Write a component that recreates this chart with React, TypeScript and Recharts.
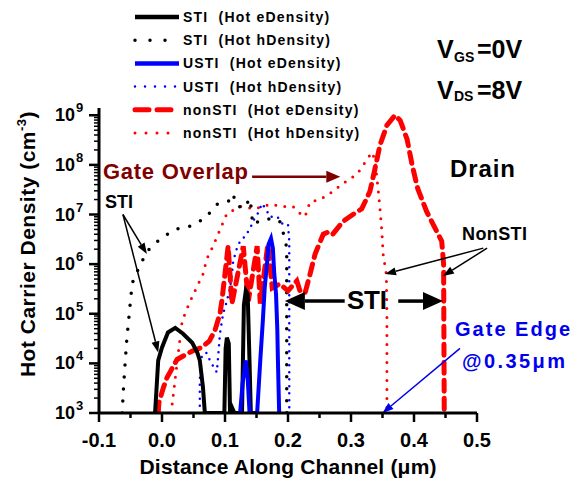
import React from 'react';
import { ComposedChart, Line, XAxis, YAxis, ReferenceLine } from 'recharts';

const FONT = "Arial, 'Liberation Sans', Helvetica, sans-serif";

// [distance along channel (um), hot carrier density (cm^-3)]
const stiEDensity: [number, number][] = [
  [-0.011, 1e3], [-0.006, 1.15e4], [0.0, 2.1e4], [0.0095, 4.2e4], [0.021, 5.2e4], [0.033, 4.0e4],
  [0.048, 2.6e4], [0.056, 1.66e4], [0.06, 1.15e4], [0.065, 3.3e3], [0.068, 1e3], [0.099, 1e3],
  [0.101, 2e4], [0.103, 3.3e4], [0.106, 2.5e4], [0.108, 1e3], [0.111, 1.3e3], [0.115, 1e3],
  [0.127, 1e3], [0.13, 1.5e5], [0.133, 2.9e5], [0.136, 2.5e5], [0.139, 1e4], [0.141, 1e3],
];
const stiHDensity: [number, number][] = [
  [-0.063, 1e3], [-0.062, 2.1e3], [-0.059, 8.3e3], [-0.056, 2.9e4], [-0.052, 1e5], [-0.049, 2.5e5],
  [-0.046, 4.6e5], [-0.037, 8.3e5], [-0.024, 1.8e6], [-0.003, 3.2e6], [0.021, 5e6], [0.044, 5.8e6],
  [0.068, 8.3e6], [0.087, 1.6e7], [0.105, 1.8e7], [0.113, 2.6e7], [0.117, 1.6e7], [0.129, 1.3e7],
  [0.14, 2.1e7], [0.144, 6.3e6], [0.16, 8e6], [0.179, 8.3e6], [0.187, 7.2e6], [0.195, 3.3e6],
  [0.198, 2.1e6], [0.198, 1.8e5], [0.198, 1e3],
];
const ustiEDensity: [number, number][] = [
  [0.124, 1e3], [0.128, 4e3], [0.133, 1.15e4], [0.136, 5e3], [0.139, 1e3], [0.151, 1e3],
  [0.156, 1.15e4], [0.16, 7e4], [0.163, 3.3e5], [0.167, 1.15e6], [0.169, 2.5e6], [0.173, 3.3e6],
  [0.176, 2.1e6], [0.178, 7e5], [0.181, 2.5e5], [0.183, 5e4], [0.184, 1.15e4], [0.186, 1e3],
];
const ustiHDensity: [number, number][] = [
  [0.06, 1.4e3], [0.06, 4.6e3], [0.062, 1.3e4], [0.07, 1.66e4], [0.076, 1.15e4], [0.083, 8e3],
  [0.087, 6.6e3], [0.089, 1.3e4], [0.092, 4e4], [0.097, 1e5], [0.103, 1.8e5], [0.108, 3.3e5],
  [0.111, 6.3e5], [0.113, 1.15e6], [0.119, 2.1e6], [0.124, 2.9e6], [0.129, 3.3e6], [0.14, 5.2e6],
  [0.144, 7.2e6], [0.152, 1.05e7], [0.159, 1.66e7], [0.167, 1.15e7], [0.171, 9e6], [0.183, 9e6],
  [0.192, 6.3e6], [0.2, 6.3e6], [0.202, 2.9e6], [0.202, 1.8e5], [0.202, 1e3],
];
const nonStiEDensity: [number, number][] = [
  [-0.006, 1e3], [-0.005, 1.6e3], [0.002, 3.2e3], [0.008, 5.2e3], [0.024, 1.2e4], [0.049, 1.8e4],
  [0.063, 2.1e4], [0.075, 2.8e4], [0.084, 4.6e4], [0.092, 1e5], [0.095, 1.8e5], [0.105, 2.3e6],
  [0.111, 1.6e5], [0.129, 2.3e6], [0.137, 1.8e5], [0.151, 2.3e6], [0.156, 1.6e5], [0.168, 2.5e6],
  [0.175, 3.3e5], [0.187, 4e5], [0.2, 2.9e5], [0.214, 4.6e5], [0.219, 2.9e5], [0.227, 2.6e5],
  [0.235, 6.3e5], [0.243, 1.6e6], [0.256, 4e6], [0.265, 4.5e6], [0.271, 4e6], [0.287, 7.2e6],
  [0.303, 1e7], [0.317, 1.3e7], [0.33, 2.9e7], [0.338, 8.3e7], [0.346, 2.5e8], [0.357, 6.3e8],
  [0.37, 1e9], [0.378, 7.9e8], [0.389, 3.3e8], [0.397, 1e8], [0.406, 3.3e7], [0.42, 1.15e7],
  [0.436, 4.6e6], [0.444, 2.9e6], [0.447, 1e6], [0.448, 1e3],
];
const nonStiHDensity: [number, number][] = [
  [0.014, 1e3], [0.016, 1.45e3], [0.032, 7.2e4], [0.043, 1.6e5], [0.054, 3.2e5], [0.065, 6.3e5],
  [0.071, 1.26e6], [0.081, 2.3e6], [0.103, 1.05e7], [0.124, 1.45e7], [0.148, 1.3e7], [0.171, 1.6e7],
  [0.195, 1.45e7], [0.208, 1.45e7], [0.219, 1.05e7], [0.227, 9e6], [0.235, 1.8e7], [0.251, 2e7],
  [0.271, 2.9e7], [0.287, 4.2e7], [0.31, 6.6e7], [0.325, 1.26e8], [0.333, 1.8e8], [0.338, 1.26e8],
  [0.343, 3.3e7], [0.346, 1.3e7], [0.349, 4.6e6], [0.351, 1.6e6], [0.356, 6.3e5], [0.357, 1e5],
  [0.357, 1e3],
];

const xTicks = [-0.1, -0.05, 0, 0.05, 0.1, 0.15, 0.2, 0.25, 0.3, 0.35, 0.4, 0.45, 0.5];
const yMajorTicks = [1e3, 1e4, 1e5, 1e6, 1e7, 1e8, 1e9];
const yMinorMultipliers = [2, 3, 4, 5, 6, 7, 8, 9];
const yTicks = [
  ...yMajorTicks,
  ...yMajorTicks.slice(0, -1).flatMap((m) => yMinorMultipliers.map((k) => k * m)),
].sort((a, b) => a - b);

const legendItems = [
  { label: 'STI  (Hot eDensity)', color: '#000000', width: 4.5, dash: undefined, cap: 'butt' },
  { label: 'STI  (Hot hDensity)', color: '#000000', width: 3.5, dash: '0 15', cap: 'round' },
  { label: 'USTI  (Hot eDensity)', color: '#0000ff', width: 4.5, dash: undefined, cap: 'butt' },
  { label: 'USTI  (Hot hDensity)', color: '#0000ff', width: 2.5, dash: '0 10', cap: 'round' },
  { label: 'nonSTI  (Hot eDensity)', color: '#ff0000', width: 5, dash: '14 8', cap: 'round' },
  { label: 'nonSTI  (Hot hDensity)', color: '#ff0000', width: 3, dash: '0 11', cap: 'round' },
];

const toPts = (arr: [number, number][]) => arr.map(([x, y]) => ({ x, y }));

const XTick = (props: any) => {
  const { x, y, payload } = props;
  const v = payload.value as number;
  const major = Math.abs(v * 10 - Math.round(v * 10)) < 1e-6;
  return (
    <g>
      <line x1={x} x2={x} y1={y} y2={y + (major ? 9 : 5)} stroke="#000" strokeWidth={2.5} />
      {major && (
        <text x={x} y={y + 34} textAnchor="middle" fontSize={20} fontWeight="bold" fontFamily={FONT} fill="#000">
          {v.toFixed(1)}
        </text>
      )}
    </g>
  );
};

const YTick = (props: any) => {
  const { x, y, payload } = props;
  const v = payload.value as number;
  const lg = Math.log10(v);
  const exp = Math.round(lg);
  const major = Math.abs(lg - exp) < 1e-6;
  return (
    <g>
      <line x1={x} x2={x - (major ? 10 : 5)} y1={y} y2={y} stroke="#000" strokeWidth={major ? 2.5 : 1.5} />
      {major && (
        <text x={x - 24} y={y + 6} textAnchor="end" fontSize={18} fontWeight="bold" fontFamily={FONT} fill="#000">
          10
        </text>
      )}
      {major && (
        <text x={x - 23} y={y - 3} fontSize={13} fontWeight="bold" fontFamily={FONT} fill="#000">
          {exp}
        </text>
      )}
    </g>
  );
};

const arrowShape = (color: string, width: number, headLen: number, headHalf: number) => (props: any) => {
  const { x1, y1, x2, y2 } = props;
  if ([x1, y1, x2, y2].some((n) => typeof n !== 'number' || isNaN(n))) return <g />;
  const dx = x2 - x1;
  const dy = y2 - y1;
  const len = Math.sqrt(dx * dx + dy * dy) || 1;
  const ux = dx / len;
  const uy = dy / len;
  const bx = x2 - ux * headLen;
  const by = y2 - uy * headLen;
  const px = -uy * headHalf;
  const py = ux * headHalf;
  return (
    <g>
      <line x1={x1} y1={y1} x2={bx} y2={by} stroke={color} strokeWidth={width} />
      <polygon points={`${x2},${y2} ${bx + px},${by + py} ${bx - px},${by - py}`} fill={color} />
    </g>
  );
};

const arrows = [
  { from: [0.143, 5.75e7], to: [0.283, 5.75e7], color: '#800000', w: 2.5, hl: 14, hh: 6 },
  { from: [-0.062, 1e7], to: [-0.024, 1.6e6], color: '#000', w: 1.5, hl: 11, hh: 4 },
  { from: [-0.062, 1e7], to: [-0.006, 1.66e4], color: '#000', w: 1.5, hl: 11, hh: 4 },
  { from: [0.29, 1.8e5], to: [0.195, 1.8e5], color: '#000', w: 3.5, hl: 20, hh: 9 },
  { from: [0.375, 1.8e5], to: [0.446, 1.8e5], color: '#000', w: 3.5, hl: 20, hh: 9 },
  { from: [0.51, 2.1e6], to: [0.354, 6.3e5], color: '#000', w: 1.5, hl: 11, hh: 4 },
  { from: [0.516, 2.1e6], to: [0.446, 5.75e5], color: '#000', w: 1.5, hl: 11, hh: 4 },
  { from: [0.473, 2e4], to: [0.35, 1e3], color: '#0000ee', w: 1.5, hl: 11, hh: 4 },
];

const T = (p: any) => (
  <text fontFamily={FONT} fontWeight="bold" fill="#000" {...p} />
);

export default function App() {
  return (
    <div style={{ position: 'absolute', left: 0, top: 0, width: 582, height: 481, background: '#fff' }}>
      <ComposedChart width={582} height={481} margin={{ top: 108, right: 105, bottom: 0, left: 0 }}>
        <XAxis
          dataKey="x"
          type="number"
          domain={[-0.1, 0.5]}
          ticks={xTicks}
          interval={0}
          allowDataOverflow
          height={68}
          tickSize={0}
          tickMargin={0}
          tickLine={false}
          tick={<XTick />}
          axisLine={{ stroke: '#000', strokeWidth: 3 }}
        />
        <YAxis
          dataKey="y"
          scale="log"
          domain={[1e3, 1.4e9]}
          ticks={yTicks}
          interval={0}
          allowDataOverflow
          width={99}
          tickSize={0}
          tickMargin={0}
          tickLine={false}
          tick={<YTick />}
          axisLine={{ stroke: '#000', strokeWidth: 3 }}
        />
        <Line data={toPts(nonStiHDensity)} dataKey="y" type="linear" stroke="#ff0000" strokeWidth={3}
          strokeDasharray="0 9" strokeLinecap="round" dot={false} isAnimationActive={false} />
        <Line data={toPts(stiHDensity)} dataKey="y" type="linear" stroke="#000000" strokeWidth={3.5}
          strokeDasharray="0 12" strokeLinecap="round" dot={false} isAnimationActive={false} />
        <Line data={toPts(ustiHDensity)} dataKey="y" type="linear" stroke="#0000ff" strokeWidth={2.5}
          strokeDasharray="0 7" strokeLinecap="round" dot={false} isAnimationActive={false} />
        <Line data={toPts(nonStiEDensity)} dataKey="y" type="linear" stroke="#ff0000" strokeWidth={5}
          strokeDasharray="11 7" strokeLinecap="round" dot={false} isAnimationActive={false} />
        <Line data={toPts(stiEDensity)} dataKey="y" type="linear" stroke="#000000" strokeWidth={4}
          dot={false} isAnimationActive={false} />
        <Line data={toPts(ustiEDensity)} dataKey="y" type="linear" stroke="#0000ff" strokeWidth={4}
          dot={false} isAnimationActive={false} />
        {arrows.map((a, i) => (
          <ReferenceLine
            key={i}
            segment={[{ x: a.from[0], y: a.from[1] }, { x: a.to[0], y: a.to[1] }]}
            ifOverflow="visible"
            stroke={a.color}
            shape={arrowShape(a.color, a.w, a.hl, a.hh)}
          />
        ))}
      </ComposedChart>
      <svg width={582} height={481} style={{ position: 'absolute', left: 0, top: 0, pointerEvents: 'none' }}>
        {legendItems.map((it, i) => {
          const cy = 17 + i * 23.2;
          return (
            <g key={i}>
              <line x1={135} x2={179} y1={cy} y2={cy} stroke={it.color} strokeWidth={it.width}
                strokeDasharray={it.dash} strokeLinecap={it.cap as any} />
              <T x={183} y={cy + 5} fontSize={14} letterSpacing={1.2} style={{ whiteSpace: 'pre' }}>{it.label}</T>
            </g>
          );
        })}
        <T x={437} y={58} fontSize={25}>V</T>
        <T x={454} y={62} fontSize={14}>GS</T>
        <T x={477} y={58} fontSize={25}>=0V</T>
        <T x={437} y={99} fontSize={25}>V</T>
        <T x={454} y={101} fontSize={14}>DS</T>
        <T x={477} y={99} fontSize={25}>=8V</T>
        <T x={103} y={179} fontSize={22} fill="#800000" textLength={145}>Gate Overlap</T>
        <T x={450} y={177} fontSize={24} textLength={65}>Drain</T>
        <T x={105} y={208} fontSize={18}>STI</T>
        <T x={347} y={309} fontSize={26} textLength={40}>STI</T>
        <T x={462} y={240} fontSize={18} textLength={65}>NonSTI</T>
        <T x={455} y={336} fontSize={20} fill="#0000ee" textLength={115}>Gate Edge</T>
        <T x={462} y={368} fontSize={20} fill="#0000ee" textLength={103}>@0.35μm</T>
        <T x={288} y={474} fontSize={21} textAnchor="middle" textLength={297}>Distance Along Channel (μm)</T>
        <T transform="translate(35,244) rotate(-90)" x={0} y={0} fontSize={21} textAnchor="middle" letterSpacing={0.5}>
          Hot Carrier Density (cm<tspan fontSize={13} dy={-9}>-3</tspan><tspan fontSize={21} dy={9}>)</tspan>
        </T>
      </svg>
    </div>
  );
}
